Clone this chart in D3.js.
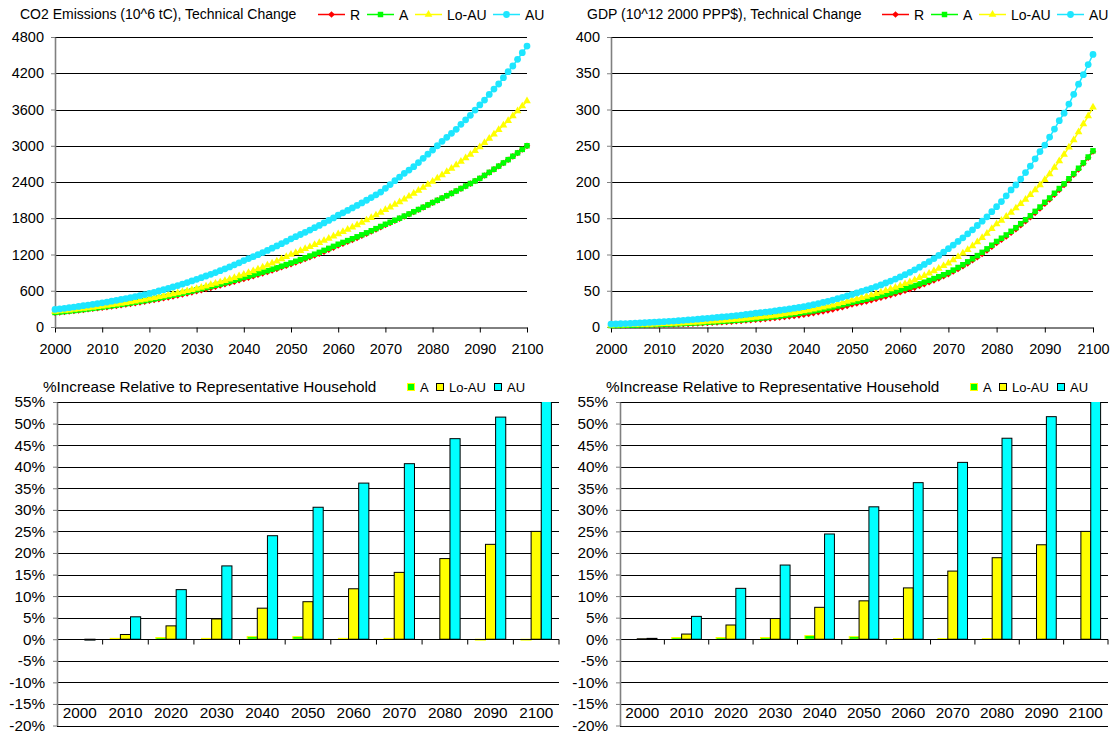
<!DOCTYPE html>
<html>
<head>
<meta charset="utf-8">
<script src="https://cdn.jsdelivr.net/npm/d3@7"></script>
<style>
  body { margin: 0; background: #fff; }
  svg { display: block; font-family: "Liberation Sans", Arial, sans-serif; }
</style>
</head>
<body>
<svg id="chart" width="1114" height="739"></svg>
<script>
// ---- x values and tick labels ----
const years = d3.range(2000, 2101);
const yearTicks = [2000, 2010, 2020, 2030, 2040, 2050, 2060, 2070, 2080, 2090, 2100];
const decades = ["2000", "2010", "2020", "2030", "2040", "2050", "2060", "2070", "2080", "2090", "2100"];
const co2Ticks = [0, 600, 1200, 1800, 2400, 3000, 3600, 4200, 4800];
const gdpTicks = [0, 50, 100, 150, 200, 250, 300, 350, 400];
const pctTicks = [-20, -15, -10, -5, 0, 5, 10, 15, 20, 25, 30, 35, 40, 45, 50, 55];

// ---- CO2 emissions (10^6 tC), yearly 2000-2100 ----
const co2R = [
  235, 243, 251, 259, 267, 275, 284, 293, 302, 311,
  320, 330, 340, 350, 361, 372, 383, 395, 408, 421,
  434, 447, 461, 476, 491, 506, 522, 539, 556, 574,
  592, 610, 628, 647, 667, 687, 708, 729, 751, 773,
  796, 818, 841, 864, 888, 912, 937, 962, 988, 1014,
  1041, 1068, 1096, 1125, 1154, 1184, 1215, 1247, 1280, 1314,
  1349, 1380, 1411, 1443, 1476, 1510, 1545, 1580, 1616, 1653,
  1690, 1724, 1759, 1794, 1830, 1866, 1903, 1941, 1980, 2019,
  2058, 2096, 2134, 2172, 2211, 2251, 2291, 2332, 2374, 2416,
  2458, 2507, 2558, 2609, 2661, 2714, 2768, 2824, 2880, 2938,
  2998];
const co2A = [
  240, 248, 256, 264, 272, 281, 290, 299, 309, 319,
  330, 340, 351, 362, 374, 385, 397, 410, 423, 436,
  450, 464, 479, 494, 510, 526, 542, 559, 577, 595,
  615, 633, 651, 670, 690, 710, 731, 752, 774, 797,
  820, 841, 863, 886, 909, 932, 957, 981, 1007, 1033,
  1060, 1088, 1116, 1145, 1175, 1205, 1236, 1269, 1302, 1335,
  1370, 1400, 1430, 1461, 1493, 1526, 1559, 1593, 1628, 1664,
  1700, 1733, 1767, 1801, 1836, 1871, 1908, 1945, 1982, 2021,
  2060, 2097, 2134, 2173, 2211, 2251, 2292, 2333, 2375, 2417,
  2460, 2509, 2560, 2611, 2663, 2716, 2770, 2826, 2882, 2940,
  3000];
const co2LoAU = [
  255, 263, 271, 279, 288, 296, 305, 315, 324, 334,
  345, 356, 367, 378, 390, 403, 415, 428, 442, 456,
  470, 484, 499, 514, 530, 546, 563, 580, 598, 616,
  635, 655, 676, 698, 720, 743, 767, 792, 817, 843,
  870, 898, 928, 958, 989, 1022, 1055, 1090, 1125, 1162,
  1200, 1230, 1262, 1294, 1326, 1360, 1394, 1430, 1466, 1503,
  1540, 1576, 1613, 1650, 1689, 1728, 1769, 1810, 1852, 1896,
  1940, 1983, 2026, 2070, 2116, 2162, 2209, 2258, 2307, 2358,
  2410, 2462, 2515, 2569, 2624, 2680, 2738, 2797, 2857, 2918,
  2980, 3049, 3119, 3190, 3264, 3339, 3415, 3494, 3574, 3656,
  3740];
const co2AU = [
  290, 300, 309, 319, 330, 341, 352, 363, 375, 387,
  400, 413, 427, 441, 456, 471, 487, 503, 520, 537,
  555, 575, 596, 617, 639, 662, 686, 710, 736, 762,
  790, 817, 844, 872, 901, 932, 963, 995, 1029, 1063,
  1100, 1132, 1164, 1197, 1232, 1267, 1304, 1341, 1380, 1419,
  1460, 1495, 1531, 1567, 1605, 1643, 1682, 1723, 1764, 1806,
  1850, 1889, 1929, 1970, 2012, 2054, 2098, 2142, 2188, 2234,
  2296, 2358, 2421, 2482, 2544, 2598, 2653, 2722, 2792, 2860,
  2929, 3000, 3073, 3140, 3205, 3272, 3355, 3430, 3504, 3591,
  3675, 3757, 3850, 3939, 4022, 4126, 4225, 4320, 4430, 4540,
  4650];

// ---- GDP (10^12 2000 PPP$), yearly 2000-2100 ----
const gdpR = [
  2.0, 2.1, 2.2, 2.3, 2.4, 2.4, 2.5, 2.6, 2.8, 2.9,
  3.0, 3.2, 3.4, 3.6, 3.8, 4.1, 4.3, 4.6, 4.9, 5.2,
  5.5, 5.8, 6.2, 6.6, 7.0, 7.4, 7.9, 8.4, 8.9, 9.4,
  10.0, 10.5, 11.1, 11.7, 12.4, 13.1, 13.8, 14.5, 15.3, 16.1,
  17.0, 18.1, 19.2, 20.4, 21.6, 22.9, 24.3, 25.8, 27.4, 29.1,
  31.0, 32.4, 33.8, 35.3, 36.9, 38.6, 40.3, 42.1, 44.0, 45.9,
  48.0, 50.1, 52.2, 54.4, 56.8, 59.2, 61.7, 64.4, 67.1, 70.0,
  73.0, 76.5, 80.1, 83.9, 87.8, 92.0, 96.3, 100.9, 105.7, 110.7,
  116, 120.5, 125, 130, 135, 140.5, 146, 151.5, 157.5, 163.5,
  170, 176, 182.5, 189, 196, 203, 210, 217.5, 225.5, 233.5,
  242];
const gdpA = [
  2.0, 2.1, 2.2, 2.4, 2.5, 2.6, 2.8, 3.0, 3.1, 3.3,
  3.5, 3.7, 4.0, 4.2, 4.5, 4.8, 5.1, 5.4, 5.7, 6.1,
  6.5, 6.9, 7.3, 7.7, 8.2, 8.7, 9.2, 9.7, 10.3, 10.9,
  11.5, 12.2, 12.8, 13.6, 14.3, 15.1, 16.0, 16.9, 17.9, 18.9,
  20.0, 21.1, 22.2, 23.4, 24.7, 26.1, 27.5, 29.0, 30.6, 32.2,
  34.0, 35.4, 36.9, 38.4, 40.0, 41.6, 43.3, 45.1, 47.0, 48.9,
  51.0, 53.0, 55.1, 57.2, 59.5, 61.8, 64.2, 66.8, 69.4, 72.1,
  75.0, 78.5, 82.1, 85.9, 89.9, 94.1, 98.5, 103.0, 107.8, 112.8,
  118, 122.5, 127, 132, 137, 142.5, 148, 153.5, 159.5, 165.5,
  172, 178, 184.5, 191, 197.5, 204.5, 211.5, 219, 226.5, 234.5,
  243];
const gdpLoAU = [
  2.5, 2.6, 2.7, 2.9, 3.0, 3.2, 3.3, 3.5, 3.6, 3.8,
  4.0, 4.3, 4.5, 4.8, 5.1, 5.5, 5.8, 6.2, 6.6, 7.0,
  7.5, 7.9, 8.4, 8.8, 9.3, 9.9, 10.4, 11.0, 11.6, 12.3,
  13.0, 13.7, 14.4, 15.2, 16.0, 16.9, 17.8, 18.8, 19.8, 20.9,
  22.0, 23.2, 24.4, 25.7, 27.1, 28.5, 30.0, 31.6, 33.3, 35.1,
  37.0, 38.6, 40.3, 42.1, 44.0, 45.9, 47.9, 50.1, 52.3, 54.6,
  57.0, 59.5, 62.2, 64.9, 67.8, 70.8, 74.0, 77.3, 80.7, 84.3,
  88.0, 92.3, 96.8, 101.6, 106.6, 111.8, 117.3, 123.0, 129.0, 135.4,
  142, 147, 152.5, 158, 164, 170, 176, 182.5, 189, 196,
  203, 211, 220, 229, 238, 248, 258, 269, 280, 291,
  303];
const gdpAU = [
  4.0, 4.2, 4.5, 4.7, 5.0, 5.3, 5.6, 5.9, 6.3, 6.6,
  7.0, 7.4, 7.8, 8.2, 8.7, 9.2, 9.7, 10.2, 10.8, 11.4,
  12.0, 12.6, 13.2, 13.8, 14.4, 15.1, 15.8, 16.5, 17.3, 18.1,
  19.0, 19.8, 20.5, 21.3, 22.2, 23.1, 24.0, 24.9, 25.9, 26.9,
  28.0, 29.4, 30.8, 32.3, 33.9, 35.5, 37.2, 39.1, 41.0, 42.9,
  45.0, 47.0, 49.0, 51.2, 53.4, 55.7, 58.1, 60.7, 63.3, 66.1,
  69.0, 72.2, 75.5, 78.9, 82.5, 86.3, 90.3, 94.4, 98.7, 103.2,
  108, 113, 118, 123, 128.5, 134, 140, 146, 152, 159,
  166, 173, 181, 189, 196, 204, 213, 222, 232, 242,
  251, 262, 273, 284.5, 295, 307.5, 321, 335, 348, 362,
  376];

// ---- % increase relative to representative household, by decade ----
const co2IncA    = [0, 0.2, 0.4, 0.2, 0.6, 0.6, 0.2, 0.2, 0, -0.2, -0.2];
const co2IncLoAU = [0, 1.1, 3.1, 4.7, 7.2, 8.7, 11.7, 15.5, 18.7, 22.0, 25.0];
const co2IncAU   = [-0.2, 5.2, 11.5, 17.0, 24.0, 30.6, 36.2, 40.7, 46.5, 51.5, 56.0];
const gdpIncA    = [0, 0.4, 0.4, 0.4, 0.85, 0.6, 0.15, 0.15, 0.15, 0, 0];
const gdpIncLoAU = [0.1, 1.2, 3.3, 4.8, 7.4, 8.9, 11.9, 15.8, 18.9, 21.9, 25.0];
const gdpIncAU   = [0.2, 5.3, 11.8, 17.2, 24.4, 30.7, 36.3, 41.0, 46.6, 51.6, 56.0];

const svg = d3.select("#chart");
const FONT = '"Liberation Sans", Arial, sans-serif';

function markerPath(kind) {
  if (kind === "circle") return d3.symbol(d3.symbolCircle, 36)();
  if (kind === "square") return d3.symbol(d3.symbolSquare, 30)();
  if (kind === "triangle") return d3.symbol(d3.symbolTriangle, 26)();
  return d3.symbol(d3.symbolSquare, 22)(); // diamond: rotated square
}

function styleAxis(sel, size, lineColor, lineWidth) {
  sel.attr("font-family", FONT).attr("font-size", size);
  sel.selectAll("text").attr("fill", "#000");
  sel.selectAll(".domain").attr("stroke", lineColor).attr("stroke-width", lineWidth);
  sel.selectAll(".tick line").attr("stroke", lineColor);
}

// ---------- line charts ----------
function drawLineChart(cfg) {
  const g = svg.append("g");
  const x = d3.scaleLinear().domain([2000, 2100]).range([cfg.left, cfg.right]);
  const y = d3.scaleLinear().domain([0, d3.max(cfg.ticks)]).range([cfg.bottom, cfg.top]);

  g.append("g").selectAll("line").data(cfg.ticks.filter(d => d > 0)).join("line")
    .attr("x1", cfg.left).attr("x2", cfg.right)
    .attr("y1", d => Math.round(y(d)) + 0.5).attr("y2", d => Math.round(y(d)) + 0.5)
    .attr("stroke", "#000").attr("stroke-width", 1);

  const xa = g.append("g").attr("transform", `translate(0,${cfg.bottom + 0.5})`)
    .call(d3.axisBottom(x).tickValues(yearTicks).tickFormat(d3.format("d"))
      .tickSize(5).tickSizeOuter(0).tickPadding(11));
  styleAxis(xa, "14.5px", "#000", 1);

  const ya = g.append("g").attr("transform", `translate(${cfg.left},0)`)
    .call(d3.axisLeft(y).tickValues(cfg.ticks).tickFormat(d3.format("d"))
      .tickSize(4).tickSizeOuter(0).tickPadding(7));
  styleAxis(ya, "14.5px", "#808080", 1.6);

  const line = d3.line().x((d, i) => x(years[i])).y(d => y(d));
  cfg.series.forEach(s => {
    g.append("path").datum(s.values).attr("d", line)
      .attr("fill", "none").attr("stroke", s.color).attr("stroke-width", 1.5);
    const mp = markerPath(s.symbol);
    g.append("g").selectAll("path").data(s.values).join("path")
      .attr("d", mp)
      .attr("transform", (d, i) => `translate(${x(years[i])},${y(d)})` + (s.symbol === "diamond" ? " rotate(45)" : ""))
      .attr("fill", s.color);
  });

  g.append("text").attr("x", cfg.titleX).attr("y", 18.5)
    .attr("font-size", "14px").attr("fill", "#000").text(cfg.title);

  const offs = [0, 49, 97, 175];
  cfg.series.forEach((s, i) => {
    const lx = cfg.legendX + offs[i];
    const lg = g.append("g");
    lg.append("line").attr("x1", lx).attr("x2", lx + 27).attr("y1", 14.5).attr("y2", 14.5)
      .attr("stroke", s.color).attr("stroke-width", 1.5);
    lg.append("path").attr("d", markerPath(s.symbol))
      .attr("transform", `translate(${lx + 13.5},14.5)` + (s.symbol === "diamond" ? " rotate(45)" : ""))
      .attr("fill", s.color);
    lg.append("text").attr("x", lx + 32).attr("y", 19.5)
      .attr("font-size", "14px").attr("fill", "#000").text(s.name);
  });
}

const lineStyles = [
  { name: "R", color: "#FF0000", symbol: "diamond" },
  { name: "A", color: "#00FF00", symbol: "square" },
  { name: "Lo-AU", color: "#FFFF00", symbol: "triangle" },
  { name: "AU", color: "#1EE6FF", symbol: "circle" }
];

drawLineChart({
  left: 55, right: 527, top: 37, bottom: 327, ticks: co2Ticks,
  title: "CO2 Emissions (10^6 tC), Technical Change", titleX: 20, legendX: 318,
  series: [co2R, co2A, co2LoAU, co2AU].map((v, i) => Object.assign({ values: v }, lineStyles[i]))
});
drawLineChart({
  left: 611, right: 1093, top: 37, bottom: 327, ticks: gdpTicks,
  title: "GDP (10^12 2000 PPP$), Technical Change", titleX: 587, legendX: 882,
  series: [gdpR, gdpA, gdpLoAU, gdpAU].map((v, i) => Object.assign({ values: v }, lineStyles[i]))
});

// ---------- bar charts ----------
const barStyles = [
  { name: "A", fill: "#00FF00", stroke: "#FFFF00" },
  { name: "Lo-AU", fill: "#FFFF00", stroke: "#000" },
  { name: "AU", fill: "#00FFFF", stroke: "#000" }
];

function drawBarChart(cfg) {
  const g = svg.append("g");
  const x0 = d3.scaleBand().domain(decades).range([cfg.left, cfg.right])
    .paddingInner(1 / 3).paddingOuter(1 / 6);
  const x1 = d3.scaleBand().domain(barStyles.map(d => d.name)).range([0, x0.bandwidth()]);
  const y = d3.scaleLinear().domain([-20, 55]).range([cfg.bottom, cfg.top]);

  g.append("g").selectAll("line").data(pctTicks).join("line")
    .attr("x1", cfg.left).attr("x2", cfg.right)
    .attr("y1", d => Math.round(y(d)) + 0.5).attr("y2", d => Math.round(y(d)) + 0.5)
    .attr("stroke", "#000").attr("stroke-width", 1);

  const clipId = "clip" + cfg.id;
  svg.append("clipPath").attr("id", clipId).append("rect")
    .attr("x", cfg.left).attr("y", cfg.top).attr("width", cfg.right - cfg.left).attr("height", cfg.bottom - cfg.top);

  const bars = g.append("g").attr("clip-path", `url(#${clipId})`);
  cfg.series.forEach((vals, si) => {
    const st = barStyles[si];
    bars.append("g").selectAll("rect")
      .data(vals.map((v, i) => ({ cat: decades[i], v })).filter(d => d.v !== 0))
      .join("rect")
      .attr("x", d => x0(d.cat) + x1(st.name))
      .attr("width", x1.bandwidth())
      .attr("y", d => y(Math.max(0, d.v)))
      .attr("height", d => Math.abs(y(d.v) - y(0)))
      .attr("fill", st.fill).attr("stroke", st.stroke).attr("stroke-width", 1);
  });

  // category axis on the zero line, tick marks at category boundaries
  const y0 = Math.round(y(0)) + 0.5;
  g.append("line").attr("x1", cfg.left).attr("x2", cfg.right).attr("y1", y0).attr("y2", y0)
    .attr("stroke", "#000");
  g.append("g").selectAll("line").data(d3.range(1, decades.length + 1)).join("line")
    .attr("x1", d => cfg.left + d * x0.step()).attr("x2", d => cfg.left + d * x0.step())
    .attr("y1", y0).attr("y2", y0 + 5).attr("stroke", "#000");

  const xl = g.append("g").attr("transform", `translate(0,${y(-15)})`)
    .call(d3.axisBottom(x0).tickSize(0).tickPadding(3.5));
  xl.select(".domain").remove();
  styleAxis(xl, "15.3px", "#000", 1);

  const ya = g.append("g").attr("transform", `translate(${cfg.left},0)`)
    .call(d3.axisLeft(y).tickValues(pctTicks).tickFormat(d => d + "%")
      .tickSize(4).tickSizeOuter(0).tickPadding(8));
  styleAxis(ya, "15.3px", "#808080", 1.6);

  g.append("text").attr("x", cfg.titleX).attr("y", 391.5)
    .attr("font-size", "15.3px").attr("fill", "#000")
    .text("%Increase Relative to Representative Household");

  const offs = [0, 29, 87];
  barStyles.forEach((st, i) => {
    const lx = cfg.legendX + offs[i];
    g.append("rect").attr("x", lx + 0.5).attr("y", 383.5).attr("width", 7).attr("height", 7)
      .attr("fill", st.fill).attr("stroke", st.stroke);
    g.append("text").attr("x", lx + 13).attr("y", 392)
      .attr("font-size", "13px").attr("fill", "#000").text(st.name);
  });
}

drawBarChart({
  id: "L", left: 57, right: 559, top: 402, bottom: 725.5,
  titleX: 43, legendX: 407,
  series: [co2IncA, co2IncLoAU, co2IncAU]
});
drawBarChart({
  id: "R", left: 620, right: 1108, top: 402, bottom: 725.5,
  titleX: 606, legendX: 970,
  series: [gdpIncA, gdpIncLoAU, gdpIncAU]
});
</script>
</body>
</html>
